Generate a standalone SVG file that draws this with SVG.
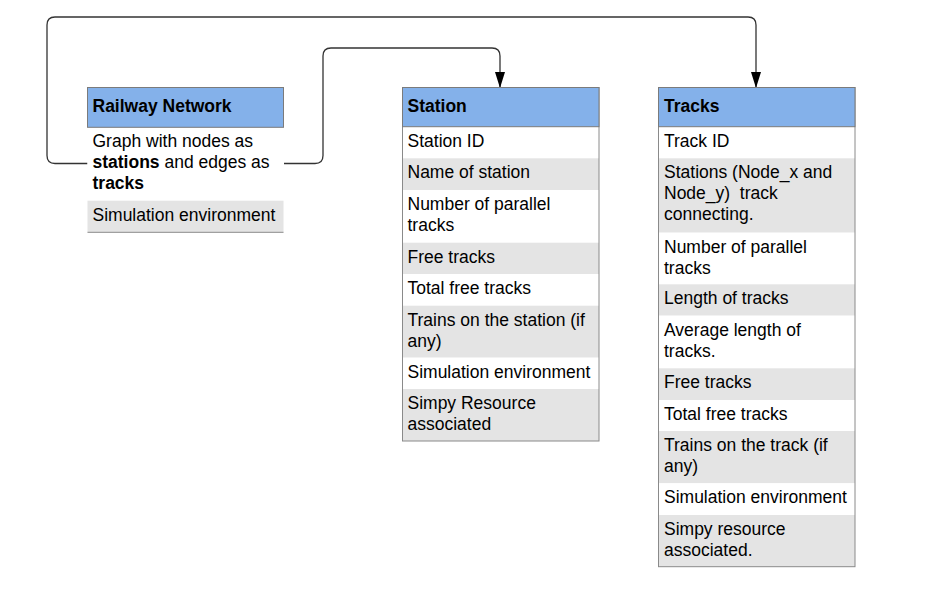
<svg xmlns="http://www.w3.org/2000/svg" width="927" height="602" viewBox="0 0 927 602">
<style>
text{font-family:"Liberation Sans",Arial,sans-serif;font-size:17.5px;fill:#000}
.h{font-weight:bold}
.hdr{fill:#84b1ea;stroke:#7b7b7b;stroke-width:1}
.w{fill:#ffffff}
.g{fill:#e4e4e4}
.frame{fill:none;stroke:#8a8a8a;stroke-width:1}
.conn{fill:none;stroke:#333333;stroke-width:1.3}
</style>
<defs>
<marker id="a2" markerUnits="userSpaceOnUse" markerWidth="16" markerHeight="10" refX="15" refY="5" viewBox="0 0 16 10" orient="auto">
<path d="M0,0 L16,5 L0,10 Z" fill="#000"/>
</marker>
</defs>
<rect width="927" height="602" fill="#ffffff"/>
<g id="connectors">
<path class="conn" d="M87.5,163.5 H55 Q47,163.5 47,155.5 V25 Q47,17 55,17 H748 Q756,17 756,25 V87" marker-end="url(#a2)"/>
<path class="conn" d="M284,163.5 H315 Q323,163.5 323,155.5 V56 Q323,48 331,48 H492 Q500,48 500,56 V87" marker-end="url(#a2)"/>
</g>
<g id="railway-network">
<rect class="w" x="87.5" y="127.3" width="196" height="73.4"/>
<rect class="g" x="87.5" y="200.7" width="196" height="31.6"/>
<line x1="87.5" y1="232.3" x2="283.5" y2="232.3" stroke="#8a8a8a" stroke-width="1"/>
<rect class="hdr" x="87.5" y="87.5" width="196" height="39.8"/>
<text class="h" x="92.5" y="111.5">Railway Network</text>
<text x="92.5" y="147">Graph with nodes as</text>
<text x="92.5" y="168"><tspan class="h">stations</tspan> and edges as</text>
<text x="92.5" y="189" class="h">tracks</text>
<text x="92.5" y="220.7">Simulation environment</text>
</g>
<g id="station">
<rect class="w" x="402.5" y="126.7" width="196.5" height="31.6"/>
<rect class="g" x="402.5" y="158.3" width="196.5" height="31.7"/>
<rect class="w" x="402.5" y="190" width="196.5" height="52.7"/>
<rect class="g" x="402.5" y="242.7" width="196.5" height="31.3"/>
<rect class="w" x="402.5" y="274" width="196.5" height="31.7"/>
<rect class="g" x="402.5" y="305.7" width="196.5" height="52"/>
<rect class="w" x="402.5" y="357.7" width="196.5" height="31.3"/>
<rect class="g" x="402.5" y="389" width="196.5" height="52"/>
<rect class="frame" x="402.5" y="87.5" width="196.5" height="353.5"/>
<rect class="hdr" x="402.5" y="87.5" width="196.5" height="39.2"/>
<text class="h" x="407.5" y="111.5">Station</text>
<text x="407.5" y="146.7">Station ID</text>
<text x="407.5" y="178.3">Name of station</text>
<text x="407.5" y="210">Number of parallel</text>
<text x="407.5" y="231">tracks</text>
<text x="407.5" y="262.7">Free tracks</text>
<text x="407.5" y="294">Total free tracks</text>
<text x="407.5" y="325.7">Trains on the station (if</text>
<text x="407.5" y="346.7">any)</text>
<text x="407.5" y="377.7">Simulation environment</text>
<text x="407.5" y="409">Simpy Resource</text>
<text x="407.5" y="430">associated</text>
</g>
<g id="tracks">
<rect class="w" x="658.5" y="126.7" width="196.5" height="31.6"/>
<rect class="g" x="658.5" y="158.3" width="196.5" height="74.4"/>
<rect class="w" x="658.5" y="232.7" width="196.5" height="51.6"/>
<rect class="g" x="658.5" y="284.3" width="196.5" height="31.4"/>
<rect class="w" x="658.5" y="315.7" width="196.5" height="52.6"/>
<rect class="g" x="658.5" y="368.3" width="196.5" height="31.7"/>
<rect class="w" x="658.5" y="400" width="196.5" height="31"/>
<rect class="g" x="658.5" y="431" width="196.5" height="52.3"/>
<rect class="w" x="658.5" y="483.3" width="196.5" height="31.7"/>
<rect class="g" x="658.5" y="515" width="196.5" height="51.7"/>
<rect class="frame" x="658.5" y="87.5" width="196.5" height="479.2"/>
<rect class="hdr" x="658.5" y="87.5" width="196.5" height="39.2"/>
<text class="h" x="664" y="111.5">Tracks</text>
<text x="664" y="146.7">Track ID</text>
<text x="664" y="178.3">Stations (Node_x and</text>
<text x="664" y="199.3" style="white-space:pre">Node_y)  track</text>
<text x="664" y="220.3">connecting.</text>
<text x="664" y="252.7">Number of parallel</text>
<text x="664" y="273.7">tracks</text>
<text x="664" y="304.3">Length of tracks</text>
<text x="664" y="335.7">Average length of</text>
<text x="664" y="356.7">tracks.</text>
<text x="664" y="388.3">Free tracks</text>
<text x="664" y="420">Total free tracks</text>
<text x="664" y="451">Trains on the track (if</text>
<text x="664" y="472">any)</text>
<text x="664" y="503.3">Simulation environment</text>
<text x="664" y="535">Simpy resource</text>
<text x="664" y="556">associated.</text>
</g>
</svg>
